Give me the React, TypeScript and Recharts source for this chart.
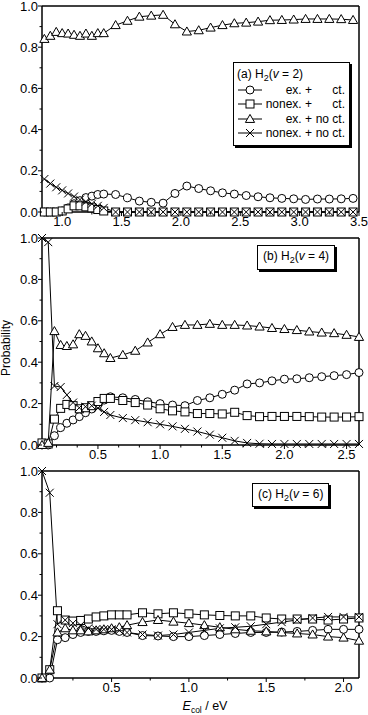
import React from 'react';
import { LineChart, Line, XAxis, YAxis, ReferenceLine, Legend } from 'recharts';

const FONT = '"Liberation Sans", Arial, Helvetica, sans-serif';

// ---------- Panel (a) H2(v = 2) ----------
const energyA = [0.85, 0.9, 0.95, 1.0, 1.05, 1.1, 1.15, 1.2, 1.25, 1.3, 1.35, 1.45, 1.55, 1.65, 1.75, 1.85, 1.95, 2.05, 2.15, 2.25, 2.35, 2.45, 2.55, 2.65, 2.75, 2.85, 2.95, 3.05, 3.15, 3.25, 3.35, 3.45];
const exCtA = [0, 0, 0, 0.005, 0.02, 0.04, 0.055, 0.07, 0.077, 0.085, 0.087, 0.085, 0.069, 0.053, 0.047, 0.043, 0.09, 0.126, 0.114, 0.103, 0.093, 0.087, 0.08, 0.074, 0.069, 0.066, 0.064, 0.061, 0.063, 0.063, 0.064, 0.066];
const nonexCtA = [0, 0, 0, 0.005, 0.015, 0.03, 0.03, 0.025, 0.02, 0.012, 0.005, 0, 0, 0, 0, 0, 0, 0, 0, 0, 0, 0, 0, 0, 0, 0, 0, 0, 0, 0, 0, 0];
const exNoCtA = [0.84, 0.855, 0.874, 0.868, 0.866, 0.86, 0.855, 0.866, 0.855, 0.868, 0.868, 0.907, 0.928, 0.948, 0.953, 0.957, 0.911, 0.876, 0.882, 0.895, 0.907, 0.916, 0.919, 0.924, 0.931, 0.932, 0.934, 0.937, 0.937, 0.937, 0.936, 0.932];
const nonexNoCtA = [0.16, 0.138, 0.12, 0.105, 0.09, 0.075, 0.06, 0.05, 0.04, 0.03, 0.02, 0, 0, 0, 0, 0, 0, 0, 0, 0, 0, 0, 0, 0, 0, 0, 0, 0, 0, 0, 0, 0];
const domainA: [number, number] = [0.83, 3.5];
const xMajorA = [1.0, 1.5, 2.0, 2.5, 3.0, 3.5];
const xMinorA = [1.25, 1.75, 2.25, 2.75, 3.25];

// ---------- Panel (b) H2(v = 4) ----------
const energyB = [0.05, 0.1, 0.15, 0.2, 0.25, 0.3, 0.35, 0.4, 0.45, 0.5, 0.55, 0.6, 0.7, 0.8, 0.9, 1.0, 1.1, 1.2, 1.3, 1.4, 1.5, 1.6, 1.7, 1.8, 1.9, 2.0, 2.1, 2.2, 2.3, 2.4, 2.5, 2.6];
const exCtB = [0, 0, 0.045, 0.084, 0.105, 0.121, 0.137, 0.156, 0.174, 0.195, 0.217, 0.233, 0.228, 0.22, 0.209, 0.2, 0.193, 0.19, 0.215, 0.228, 0.245, 0.265, 0.295, 0.3, 0.31, 0.318, 0.32, 0.325, 0.33, 0.335, 0.34, 0.35];
const nonexCtB = [0.01, 0.005, 0.125, 0.177, 0.196, 0.19, 0.175, 0.18, 0.19, 0.21, 0.225, 0.225, 0.215, 0.205, 0.193, 0.175, 0.165, 0.16, 0.152, 0.152, 0.15, 0.158, 0.142, 0.137, 0.138, 0.138, 0.138, 0.137, 0.135, 0.135, 0.135, 0.137];
const exNoCtB = [0, 0.01, 0.55, 0.483, 0.478, 0.486, 0.535, 0.527, 0.5, 0.467, 0.443, 0.42, 0.435, 0.455, 0.495, 0.535, 0.57, 0.58, 0.58, 0.585, 0.58, 0.58, 0.577, 0.572, 0.565, 0.56, 0.555, 0.548, 0.543, 0.54, 0.532, 0.522];
const nonexNoCtB = [1.0, 0.98, 0.285, 0.28, 0.242, 0.205, 0.18, 0.185, 0.19, 0.178, 0.16, 0.145, 0.13, 0.12, 0.11, 0.1, 0.09, 0.078, 0.065, 0.05, 0.035, 0.02, 0.01, 0.006, 0.005, 0.005, 0.005, 0.005, 0.005, 0.005, 0.005, 0.005];
const domainB: [number, number] = [0.05, 2.6];
const xMajorB = [0.5, 1.0, 1.5, 2.0, 2.5];
const xMinorB = [0.1667, 0.3333, 0.6667, 0.8333, 1.1667, 1.3333, 1.6667, 1.8333, 2.1667, 2.3333];

// ---------- Panel (c) H2(v = 6) ----------
const energyC = [0.05, 0.1, 0.15, 0.2, 0.25, 0.3, 0.35, 0.4, 0.45, 0.5, 0.55, 0.6, 0.7, 0.8, 0.9, 1.0, 1.1, 1.2, 1.3, 1.4, 1.5, 1.6, 1.7, 1.8, 1.9, 2.0, 2.1];
const exCtC = [0, 0, 0.185, 0.195, 0.21, 0.22, 0.225, 0.225, 0.228, 0.23, 0.225, 0.22, 0.205, 0.203, 0.2, 0.2, 0.205, 0.21, 0.215, 0.22, 0.22, 0.222, 0.225, 0.23, 0.235, 0.235, 0.235];
const nonexCtC = [0, 0.04, 0.325, 0.28, 0.275, 0.278, 0.285, 0.295, 0.3, 0.305, 0.305, 0.305, 0.315, 0.31, 0.315, 0.31, 0.305, 0.302, 0.3, 0.3, 0.29, 0.285, 0.285, 0.285, 0.28, 0.285, 0.29];
const exNoCtC = [0, 0.04, 0.22, 0.24, 0.23, 0.23, 0.225, 0.23, 0.235, 0.24, 0.245, 0.255, 0.27, 0.28, 0.272, 0.265, 0.255, 0.245, 0.235, 0.228, 0.225, 0.22, 0.215, 0.21, 0.2, 0.195, 0.18];
const nonexNoCtC = [1.0, 0.895, 0.26, 0.28, 0.265, 0.255, 0.24, 0.235, 0.235, 0.235, 0.23, 0.22, 0.21, 0.205, 0.21, 0.22, 0.23, 0.24, 0.245, 0.25, 0.26, 0.27, 0.28, 0.29, 0.295, 0.295, 0.295];
const domainC: [number, number] = [0.05, 2.1];
const xMajorC = [0.5, 1.0, 1.5, 2.0];
const xMinorC = [0.25, 0.75, 1.25, 1.75];

// ---------- shared ----------
const yMajor = [0, 0.2, 0.4, 0.6, 0.8, 1.0];
const yMinor = [0.1, 0.3, 0.5, 0.7, 0.9];
const legendRows = [
  { key: 'exCt', a: 'ex. +', b: 'ct.' },
  { key: 'nonexCt', a: 'nonex. +', b: 'ct.' },
  { key: 'exNoCt', a: 'ex. +', b: 'no ct.' },
  { key: 'nonexNoCt', a: 'nonex. +', b: 'no ct.' },
];

function buildRows(xs: number[], c: number[], s: number[], t: number[], k: number[]) {
  return xs.map((x, i) => ({ x, exCt: c[i], nonexCt: s[i], exNoCt: t[i], nonexNoCt: k[i] }));
}

const rowsA = buildRows(energyA, exCtA, nonexCtA, exNoCtA, nonexNoCtA);
const rowsB = buildRows(energyB, exCtB, nonexCtB, exNoCtB, nonexNoCtB);
const rowsC = buildRows(energyC, exCtC, nonexCtC, exNoCtC, nonexNoCtC);

// ---------- markers ----------
function CircleDot(p: any) {
  if (p.cx == null || p.cy == null) return null;
  return <circle key={`c${p.index}`} cx={p.cx} cy={p.cy} r={4} fill="#fff" stroke="#000" strokeWidth={1} />;
}
function SquareDot(p: any) {
  if (p.cx == null || p.cy == null) return null;
  return <rect key={`s${p.index}`} x={p.cx - 4} y={p.cy - 4} width={8} height={8} fill="#fff" stroke="#000" strokeWidth={1} />;
}
function TriDot(p: any) {
  if (p.cx == null || p.cy == null) return null;
  const s = 4.6;
  return (
    <path
      key={`t${p.index}`}
      d={`M${p.cx},${p.cy - s} L${p.cx + s},${p.cy + s * 0.75} L${p.cx - s},${p.cy + s * 0.75} Z`}
      fill="#fff"
      stroke="#000"
      strokeWidth={1}
    />
  );
}
function CrossDot(p: any) {
  if (p.cx == null || p.cy == null) return null;
  const s = 4;
  return (
    <path
      key={`x${p.index}`}
      d={`M${p.cx - s},${p.cy - s} L${p.cx + s},${p.cy + s} M${p.cx - s},${p.cy + s} L${p.cx + s},${p.cy - s}`}
      fill="none"
      stroke="#000"
      strokeWidth={1}
    />
  );
}

function IconSvg({ k }: { k: string }) {
  const cx = 12, cy = 7;
  let m: React.ReactNode = null;
  if (k === 'exCt') m = <circle cx={cx} cy={cy} r={4} fill="#fff" stroke="#000" />;
  if (k === 'nonexCt') m = <rect x={cx - 4} y={cy - 4} width={8} height={8} fill="#fff" stroke="#000" />;
  if (k === 'exNoCt') m = <path d={`M${cx},${cy - 4.6} L${cx + 4.6},${cy + 3.45} L${cx - 4.6},${cy + 3.45} Z`} fill="#fff" stroke="#000" />;
  if (k === 'nonexNoCt') m = <path d={`M${cx - 4},${cy - 4} L${cx + 4},${cy + 4} M${cx - 4},${cy + 4} L${cx + 4},${cy - 4}`} stroke="#000" fill="none" />;
  return (
    <svg width={24} height={14} style={{ display: 'block' }}>
      <line x1={0} x2={24} y1={cy} y2={cy} stroke="#000" strokeWidth={1} />
      {m}
    </svg>
  );
}

const boxStyle: React.CSSProperties = {
  border: '1px solid #000',
  boxShadow: '2px 2px 0 #000',
  background: '#fff',
  fontFamily: FONT,
  fontSize: 12,
  color: '#000',
  lineHeight: '14.5px',
  whiteSpace: 'nowrap',
};

function Title({ tag, v }: { tag: string; v: string }) {
  return (
    <span>
      ({tag}) H<span style={{ fontSize: 9, position: 'relative', top: 3 }}>2</span>(<i>v</i> = {v})
    </span>
  );
}

function LegendA() {
  return (
    <div style={{ ...boxStyle, padding: '4px 4px 4px 4px' }}>
      <div style={{ marginLeft: -1 }}><Title tag="a" v="2" /></div>
      {legendRows.map((r) => (
        <div key={r.key} style={{ display: 'flex', alignItems: 'center', height: 14.5 }}>
          <IconSvg k={r.key} />
          <span style={{ width: 50, textAlign: 'right' }}>{r.a}</span>
          <span style={{ width: 33, textAlign: 'right' }}>{r.b}</span>
        </div>
      ))}
    </div>
  );
}

function LegendB() {
  return (
    <div style={{ ...boxStyle, padding: '3px 5px 4px 5px' }}>
      <Title tag="b" v="4" />
    </div>
  );
}
function LegendC() {
  return (
    <div style={{ ...boxStyle, padding: '3px 5px 3px 5px' }}>
      <Title tag="c" v="6" />
    </div>
  );
}

// ---------- ticks ----------
const isIn = (arr: number[], v: number) => arr.some((m) => Math.abs(m - v) < 1e-6);

const makeXTick = (major: number[]) => (props: any) => {
  const { x, y, payload } = props;
  const v = payload.value as number;
  const big = isIn(major, v);
  return (
    <g>
      <line x1={x} x2={x} y1={y} y2={y + (big ? 4 : 2.5)} stroke="#000" strokeWidth={1} />
      {big && (
        <text x={x} y={y + 14} textAnchor="middle" fontSize={13} fontFamily={FONT} fill="#000">
          {v.toFixed(1)}
        </text>
      )}
    </g>
  );
};

const YTick = (props: any) => {
  const { x, y, payload } = props;
  const v = payload.value as number;
  const big = isIn(yMajor, v);
  return (
    <g>
      <line x1={x} x2={x - (big ? 4 : 2.5)} y1={y} y2={y} stroke="#000" strokeWidth={1} />
      {big && (
        <text x={x - 4} y={y + 4.5} textAnchor="end" fontSize={13} fontFamily={FONT} fill="#000">
          {v.toFixed(1)}
        </text>
      )}
    </g>
  );
};

const probLabel = () => (
  <text x={10} y={116} transform="rotate(-90 10 116)" textAnchor="middle" fontSize={12} fontFamily={FONT} fill="#000">
    Probability
  </text>
);

const energyLabel = () => (
  <text x={205} y={245} textAnchor="middle" fontSize={12.5} fontFamily={FONT} fill="#000">
    <tspan fontStyle="italic">E</tspan>
    <tspan fontSize={8.5} dy={3}>col</tspan>
    <tspan dy={-3}> / eV</tspan>
  </text>
);

const axisLine = { stroke: '#000', strokeWidth: 1.5 };

function Panel(props: {
  rows: any[];
  domain: [number, number];
  major: number[];
  minor: number[];
  height: number;
  xHeight: number;
  legend: React.ReactNode;
  legendPos: { left: number; top: number };
  yLabel?: any;
  xLabel?: any;
}) {
  const { rows, domain, major, minor, height, xHeight, legend, legendPos, yLabel, xLabel } = props;
  const xTicks = [...major, ...minor].sort((a, b) => a - b);
  const yTicks = [...yMajor, ...yMinor].sort((a, b) => a - b);
  return (
    <LineChart width={368} height={height} data={rows} margin={{ top: 6, right: 9, bottom: 0, left: 0 }}>
      <XAxis
        dataKey="x"
        type="number"
        domain={domain}
        ticks={xTicks}
        interval={0}
        tick={makeXTick(major)}
        tickLine={false}
        tickSize={0}
        tickMargin={0}
        axisLine={axisLine}
        height={xHeight}
        label={xLabel}
      />
      <YAxis
        type="number"
        domain={[0, 1]}
        ticks={yTicks}
        interval={0}
        tick={YTick}
        tickLine={false}
        tickSize={0}
        tickMargin={0}
        axisLine={axisLine}
        width={42}
        label={yLabel}
      />
      <ReferenceLine y={1} stroke="#000" strokeWidth={1.5} />
      <ReferenceLine x={domain[1]} stroke="#000" strokeWidth={1.5} />
      <Line dataKey="exCt" name="ex. + ct." type="linear" stroke="#000" strokeWidth={1} dot={CircleDot} activeDot={false} isAnimationActive={false} />
      <Line dataKey="nonexCt" name="nonex. + ct." type="linear" stroke="#000" strokeWidth={1} dot={SquareDot} activeDot={false} isAnimationActive={false} />
      <Line dataKey="exNoCt" name="ex. + no ct." type="linear" stroke="#000" strokeWidth={1} dot={TriDot} activeDot={false} isAnimationActive={false} />
      <Line dataKey="nonexNoCt" name="nonex. + no ct." type="linear" stroke="#000" strokeWidth={1} dot={CrossDot} activeDot={false} isAnimationActive={false} />
      <Legend
        layout="vertical"
        align="center"
        verticalAlign="middle"
        content={() => legend}
        wrapperStyle={{ left: legendPos.left, top: legendPos.top, width: 'auto', height: 'auto' }}
      />
    </LineChart>
  );
}

export default function App() {
  return (
    <div style={{ position: 'absolute', left: 0, top: 0, width: 368, height: 715, background: '#fff', overflow: 'hidden' }}>
      <div style={{ position: 'absolute', left: 0, top: 0 }}>
        <Panel rows={rowsA} domain={domainA} major={xMajorA} minor={xMinorA} height={233} xHeight={21} legend={<LegendA />} legendPos={{ left: 233, top: 62 }} />
      </div>
      <div style={{ position: 'absolute', left: 0, top: 232 }}>
        <Panel rows={rowsB} domain={domainB} major={xMajorB} minor={xMinorB} height={234} xHeight={21} legend={<LegendB />} legendPos={{ left: 257, top: 13 }} yLabel={probLabel} />
      </div>
      <div style={{ position: 'absolute', left: 0, top: 465 }}>
        <Panel rows={rowsC} domain={domainC} major={xMajorC} minor={xMinorC} height={250} xHeight={37} legend={<LegendC />} legendPos={{ left: 252, top: 18 }} xLabel={energyLabel} />
      </div>
    </div>
  );
}
